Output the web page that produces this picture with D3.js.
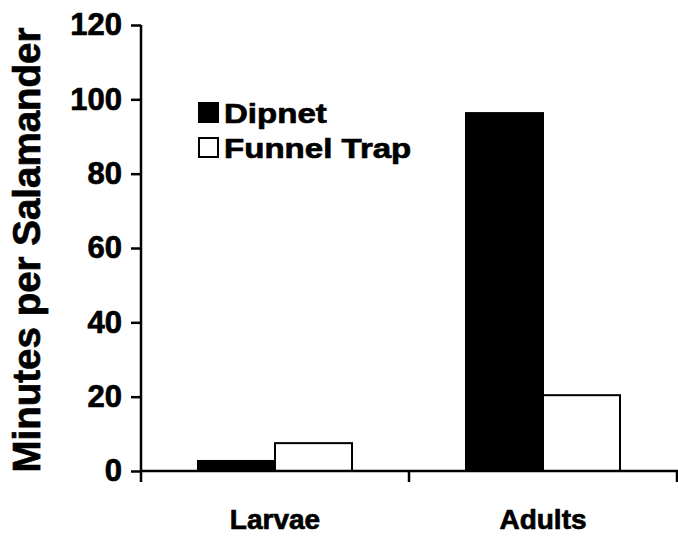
<!DOCTYPE html>
<html><head><meta charset="utf-8">
<script src="https://cdn.jsdelivr.net/npm/d3@7"></script>
<style>body{margin:0;background:#fff}svg{display:block}text{font-family:"Liberation Sans",Arial,sans-serif;font-weight:bold;fill:#000;stroke:#000;stroke-width:0.7px}</style>
</head><body>
<script>
const categories = ["Larvae", "Adults"];
const seriesNames = ["Dipnet", "Funnel Trap"];
const dipnet = [2.7, 96.3];
const funnelTrap = [7.5, 20.4];
const yTicks = [0, 20, 40, 60, 80, 100, 120];
const yTitle = "Minutes per Salamander";

const W = 678, H = 537;
const svg = d3.select("body").append("svg").attr("width", W).attr("height", H);
const x0 = d3.scaleBand().domain(categories).range([141, 677]).paddingInner(0).paddingOuter(0);
const x1 = d3.scaleBand().domain(seriesNames).range([0, x0.bandwidth()]).paddingInner(0).paddingOuter(0.74);
const y = d3.scaleLinear().domain([0, 120]).range([471, 25]);
const fills = {"Dipnet": "#000", "Funnel Trap": "#fff"};
const vals = {"Dipnet": dipnet, "Funnel Trap": funnelTrap};

// bars
categories.forEach((c, i) => {
  seriesNames.forEach(s => {
    const v = vals[s][i];
    svg.append("rect")
      .attr("x", x0(c) + x1(s)).attr("width", x1.bandwidth())
      .attr("y", y(v)).attr("height", y(0) - y(v))
      .attr("fill", fills[s]).attr("stroke", "#000").attr("stroke-width", 2);
  });
});

// y axis
const yAxis = d3.axisLeft(y).tickValues(yTicks).tickSize(10).tickPadding(9).tickSizeOuter(0);
const gy = svg.append("g").attr("transform", "translate(141,0)").call(yAxis);
gy.select(".domain").remove();
gy.append("line").attr("x1", 0).attr("x2", 0).attr("y1", y(120)).attr("y2", y(0) + 11).attr("stroke", "#000").attr("stroke-width", 2.5);
gy.selectAll(".tick line").attr("stroke", "#000").attr("stroke-width", 2.5);
gy.selectAll(".tick text").style("font-size", "31px").style("font-family", '"Liberation Sans",Arial,sans-serif').style("font-weight", "bold").attr("fill", "#000");

// x axis
svg.append("line").attr("x1", 141).attr("x2", 678).attr("y1", y(0)).attr("y2", y(0)).attr("stroke", "#000").attr("stroke-width", 2.5);
const bounds = categories.map(c => x0(c) + x0.bandwidth());
bounds.forEach(b => {
  svg.append("line").attr("x1", b).attr("x2", b).attr("y1", y(0)).attr("y2", y(0) + 11).attr("stroke", "#000").attr("stroke-width", 2.5);
});
categories.forEach(c => {
  svg.append("text").attr("x", x0(c) + x0.bandwidth() / 2).attr("y", 529)
    .attr("text-anchor", "middle").style("font-size", "28px").text(c);
});

// y title
svg.append("text").attr("transform", "translate(40,250) rotate(-90)")
  .attr("text-anchor", "middle").style("font-size", "38.5px").text(yTitle);

// legend
seriesNames.forEach((s, i) => {
  const ly = 103 + i * 35;
  svg.append("rect").attr("x", 199).attr("y", ly).attr("width", 19).attr("height", 19)
    .attr("fill", fills[s]).attr("stroke", "#000").attr("stroke-width", 2);
  svg.append("text").attr("x", 224).attr("y", ly + 20).style("font-size", "28.5px")
    .attr("transform", `translate(224,0) scale(1.16,1) translate(-224,0)`).text(s);
});
</script>
</body></html>
